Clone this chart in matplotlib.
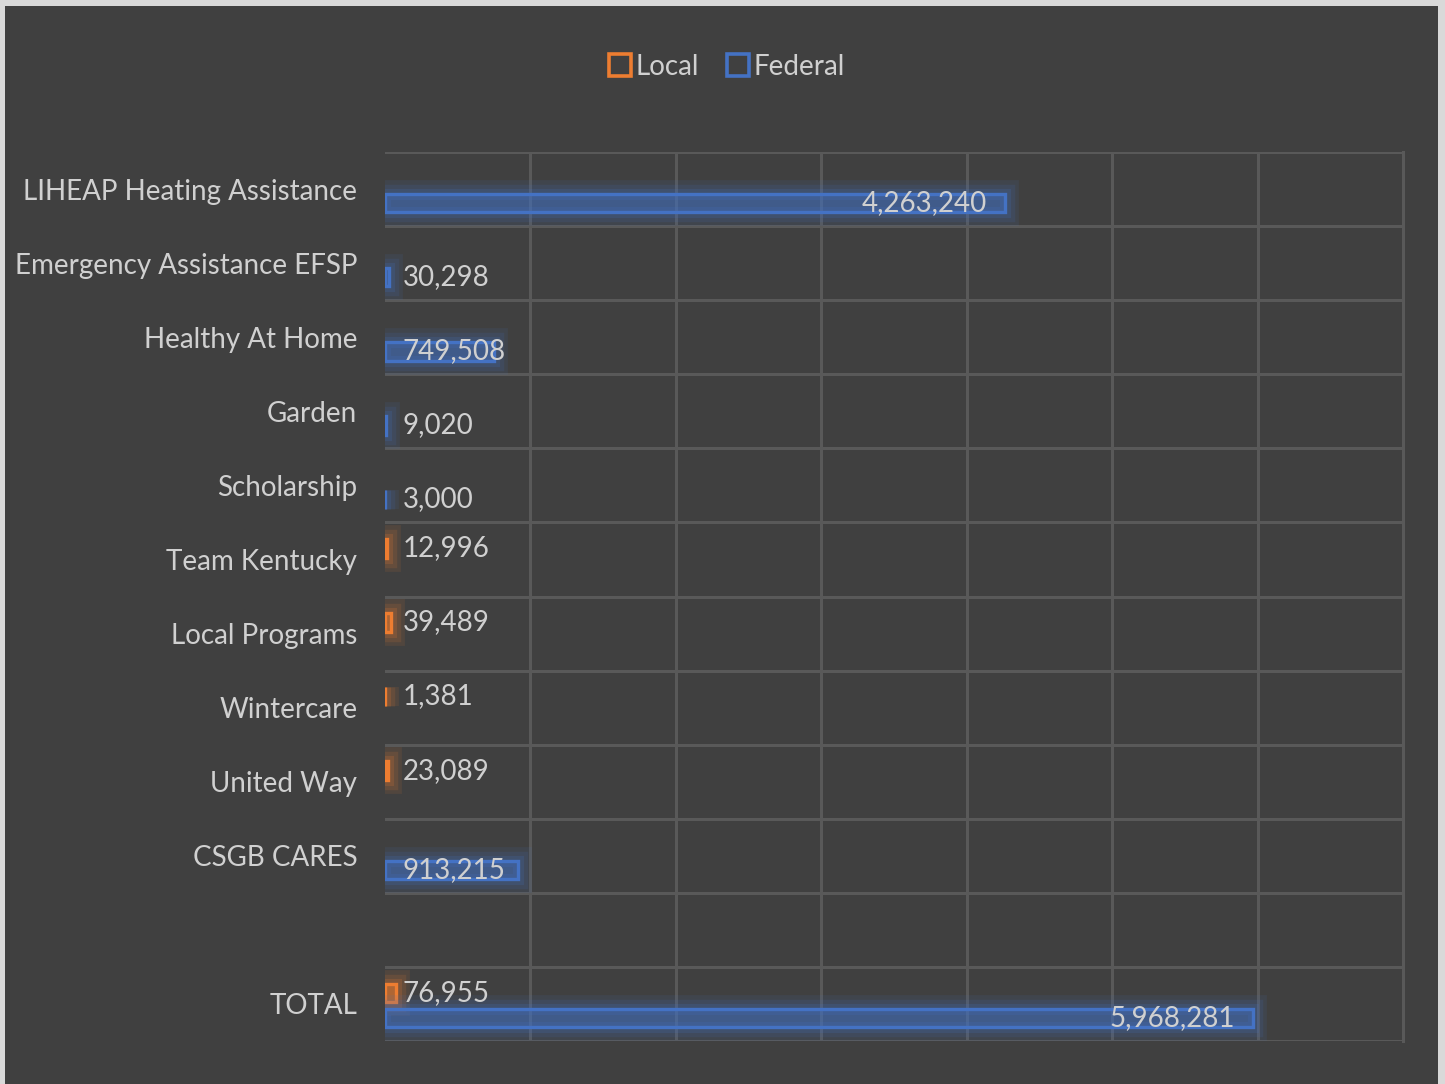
import matplotlib
matplotlib.use("Agg")
import matplotlib.pyplot as plt
import matplotlib.patheffects as pe
from matplotlib.patches import Rectangle
from matplotlib.lines import Line2D
from matplotlib.colors import to_rgba
import numpy as np

categories = ["LIHEAP Heating Assistance", "Emergency Assistance EFSP", "Healthy At Home",
              "Garden", "Scholarship", "Team Kentucky", "Local Programs", "Wintercare",
              "United Way", "CSGB CARES", "", "TOTAL"]
local_vals = [None, None, None, None, None, 12996, 39489, 1381, 23089, None, None, 76955]
federal_vals = [4263240, 30298, 749508, 9020, 3000, None, None, None, None, 913215, None, 5968281]
series_names = ["Local", "Federal"]
x_max = 7000000
x_step = 1000000

plt.rcParams['font.family'] = ["Lato", "DejaVu Sans"]
FS = 20

BG = "#404040"
GRID = "#595959"
TXT = "#d0d0d0"
ORANGE = "#ED7D31"
BLUE = "#4472C4"

fig = plt.figure(figsize=(14.45, 10.84), dpi=100)
fig.patch.set_facecolor("#d9d9d9")
bgrect = Rectangle((5/1445, 0), (1438-5)/1445, (1084-6)/1084,
                   transform=fig.transFigure, facecolor=BG, edgecolor="none", zorder=-10)
fig.patches.append(bgrect)

ax = fig.add_axes([385/1445, 1-1041/1084, (1403-385)/1445, (1041-152)/1084])
ax.set_facecolor(BG)
ax.set_zorder(1)

n = len(categories)
y = np.arange(n)
h = 0.25
offsets = {"Local": -0.15, "Federal": 0.19}
colors = {"Local": ORANGE, "Federal": BLUE}

def glow(color):
    return [pe.Stroke(linewidth=20, foreground=color, alpha=0.10),
            pe.Stroke(linewidth=14, foreground=color, alpha=0.13),
            pe.Stroke(linewidth=8, foreground=color, alpha=0.18),
            pe.Normal()]

for name, vals in (("Local", local_vals), ("Federal", federal_vals)):
    col = colors[name]
    for i, v in enumerate(vals):
        if v is None:
            continue
        yy = i + offsets[name]
        bars = ax.barh(yy, v, height=h, left=0, facecolor=to_rgba(col, 0.15),
                       edgecolor=col, linewidth=2.4, zorder=3)
        for b in bars:
            b.set_path_effects(glow(col))
        label = f"{v:,}"
        if v > 1500000:
            ax.annotate(label, xy=(v, yy), xytext=(-18, 0), textcoords="offset pixels",
                        ha="right", va="center", color=TXT, fontsize=FS, zorder=5)
        else:
            ax.annotate(label, xy=(0, yy), xytext=(18, 0), textcoords="offset pixels",
                        ha="left", va="center", color=TXT, fontsize=FS, zorder=5)

ax.set_ylim(n - 0.5, -0.5)
ax.set_xlim(0, x_max)
ax.set_yticks(y)
ax.set_yticklabels(categories, color=TXT, fontsize=FS)
ax.set_yticks(np.arange(-0.5, n, 1.0), minor=True)
ax.set_xticks(np.arange(x_step, x_max + 1, x_step))
ax.set_xticklabels([])
ax.tick_params(axis="both", which="both", length=0)
ax.tick_params(axis="y", pad=20)
ax.grid(True, axis="x", which="major", color=GRID, linewidth=2.2, zorder=0)
ax.grid(True, axis="y", which="minor", color=GRID, linewidth=2.2, zorder=0)
ax.grid(False, axis="y", which="major")
ax.set_axisbelow(True)
for s in ax.spines.values():
    s.set_visible(False)
ax.spines["right"].set_visible(True)
ax.spines["right"].set_color(GRID)
ax.spines["right"].set_linewidth(2.2)

handles = [Line2D([], [], marker="s", linestyle="none", markersize=16,
                  markerfacecolor="none", markeredgecolor=colors[nm], markeredgewidth=2.6)
           for nm in series_names]
fig.legend(handles, series_names, loc="center", bbox_to_anchor=(727/1445, 1-67/1084),
           ncol=2, frameon=False, fontsize=FS, labelcolor=TXT, handletextpad=0.15,
           columnspacing=1.0, handlelength=0.8)

fig.savefig("out.png", dpi=100, facecolor=fig.get_facecolor())
